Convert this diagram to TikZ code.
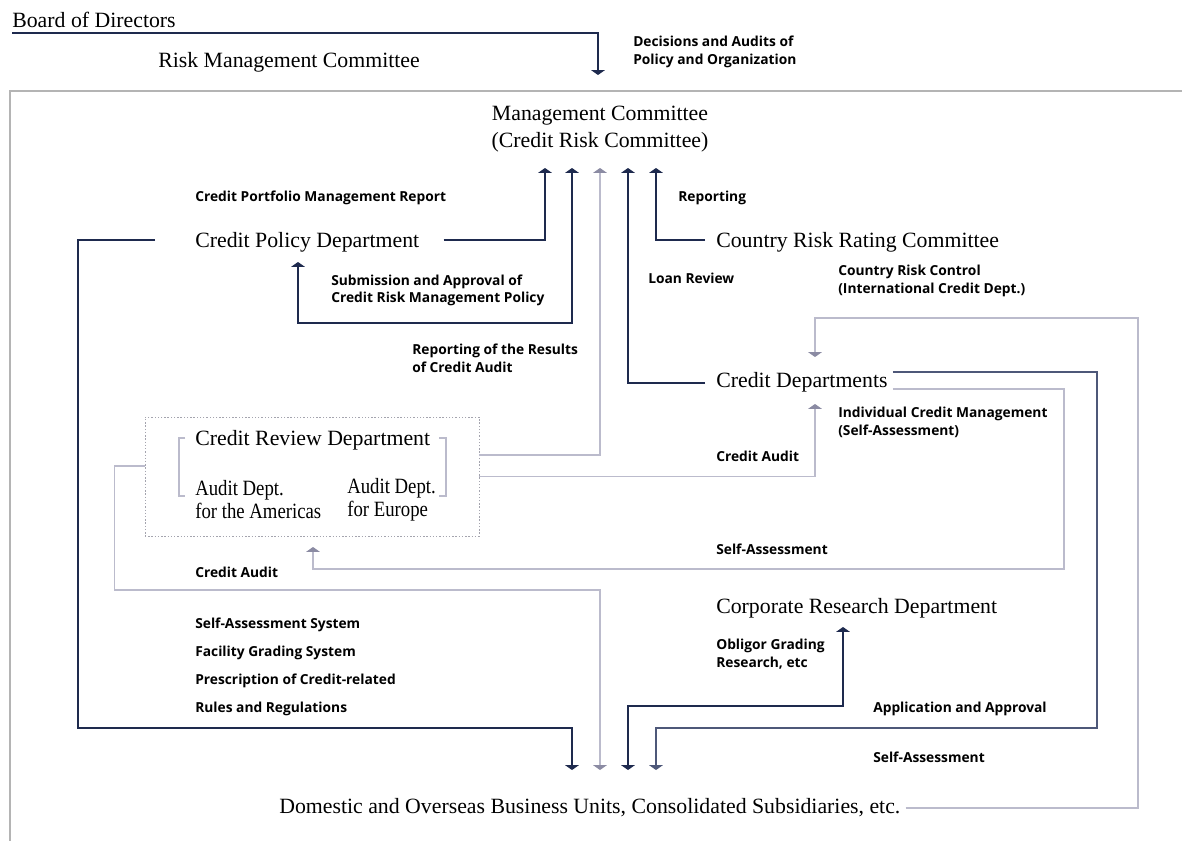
\documentclass[tikz,border=0pt]{standalone}
\usepackage{fontspec}
\setmainfont{Liberation Serif}
\newfontfamily\lblfont{Open Sans}
\newfontfamily\narrowserif[FakeStretch=0.86]{Liberation Serif}
\usetikzlibrary{arrows.meta,positioning}
\definecolor{crnavy}{HTML}{1E2A4E}
\definecolor{crslate}{HTML}{4E5879}
\definecolor{crlilac}{HTML}{BBBBCC}
\definecolor{crtip}{HTML}{8B8BA3}
\definecolor{crframe}{HTML}{B4B4B4}
\definecolor{crdots}{HTML}{A4A4AE}

\begin{document}
\begin{tikzpicture}[
    x=0.025cm, y=-0.025cm,
    unit/.style={anchor=west, inner sep=0pt, font=\fontsize{15.5}{19}\selectfont},
    lbl/.style={anchor=west, inner sep=0pt, align=left,
                font=\lblfont\bfseries\fontsize{9.8}{12.6}\selectfont},
    dark/.style={draw=crnavy, line width=1pt},
    slate/.style={draw=crslate, line width=1pt},
    pale/.style={draw=crlilac, line width=1pt},
    arr/.style={-{Triangle[width=9.5pt,length=3.4pt]}},
    duoarr/.style={{Triangle[width=9.5pt,length=3.4pt]}-{Triangle[width=9.5pt,length=3.4pt]}},
    palearr/.style={-{Triangle[width=9.5pt,length=3.4pt,color=crtip]}}
  ]

  % ---- Canvas and frame ----
  \useasboundingbox (0,0) rectangle (1182,841);
  \fill[white] (0,0) rectangle (1182,841);
  \draw[crframe, line width=0.9pt] (1182,91) -- (10,91) -- (10,841);

  % ============ TOP ============
  \node[unit] (BD) at (12,20) {Board of Directors};
  \node[unit] (RMC) at (158,62) {Risk Management Committee};
  \node[lbl] (decLbl) at (633,52) {Decisions and Audits of\\Policy and Organization};
  \coordinate (bdOut) at (12,33);
  \coordinate (rmcIn) at (598,75);
  \draw[dark, arr] (bdOut) -| (rmcIn);

  % ============ UNITS ============
  \node[unit, anchor=center, align=center, font=\fontsize{15.5}{19.3}\selectfont]
    (MC) at (600,129) {Management Committee\\(Credit Risk Committee)};
  \node[unit] (CPD) at (195,242) {Credit Policy Department};
  \node[unit] (CRRC) at (716,242) {Country Risk Rating Committee};
  \node[unit] (CD) at (716,382) {Credit Departments};
  \node[unit] (CRS) at (716,608) {Corporate Research Department};
  \node[unit] (DOB) at (279,808)
    {Domestic and Overseas Business Units, Consolidated Subsidiaries, etc.};

  % Credit Review Department (dotted box)
  \node[draw=crdots, line width=0.6pt, dash pattern=on 1pt off 1.3pt,
        minimum width=8.35cm, minimum height=2.975cm, inner sep=0pt]
    (CRV) at (312,476.5) {};
  \draw[crlilac, line width=0.8pt] (185,438) -- (179,438) -- (179,496) -- (185,496);
  \draw[crlilac, line width=0.8pt] (439,438) -- (446,438) -- (446,496) -- (439,496);
  \node[unit] (CRVt) at (195,440) {Credit Review Department};
  \node[unit, align=left, font=\narrowserif\fontsize{15.5}{16.4}\selectfont]
    (AdAm) at (195,500) {Audit Dept.\\for the Americas};
  \node[unit, align=left, font=\narrowserif\fontsize{15.5}{16.4}\selectfont]
    (AdEu) at (347,500) {Audit Dept.\\for Europe};

  % ============ PORTS ============
  \coordinate (mcA) at (545,168);
  \coordinate (mcB) at (572,168);
  \coordinate (mcC) at (600,168);
  \coordinate (mcD) at (628,168);
  \coordinate (mcE) at (656,168);
  \coordinate (dbA) at (572,770);
  \coordinate (dbB) at (600,770);
  \coordinate (dbC) at (628,770);
  \coordinate (dbD) at (656,770);
  \coordinate (cpdIn) at (298,262);
  \coordinate (cdInT) at (815,357);
  \coordinate (cdInB) at (815,404);
  \coordinate (crvIn) at (313,547);
  \coordinate (crsIn) at (843,627);
  \coordinate (saTurn) at (1064,569);
  \coordinate (apTurn) at (1097,728);
  \coordinate (crTurn) at (1138,318);

  % ============ CONNECTORS ============
  % into the Management Committee
  \draw[dark, arr] ([shift={(24,-2)}]CPD.east) -| (mcA);
  \draw[dark, duoarr] (cpdIn) -- ++(0,61) -| (mcB);
  \draw[pale, palearr] ([shift={(0,-21.5)}]CRV.east) -| (mcC);
  \draw[dark, arr] ([shift={(-11,1)}]CD.west) -| (mcD);
  \draw[dark, arr] ([shift={(-11,-2)}]CRRC.west) -| (mcE);

  % down to the business units
  \draw[dark, arr] ([shift={(-40,-2)}]CPD.west) -| ++(-77,488) -| (dbA);
  \draw[pale, palearr] ([shift={(0,-10.5)}]CRV.west) -| ++(-30,124) -| (dbB);
  \draw[dark, duoarr] (dbC) -- ++(0,-64) -| (crsIn);
  \draw[slate, arr] ([shift={(5,-10)}]CD.east) -| (apTurn) -| (dbD);

  % credit audit and self-assessment
  \draw[pale, palearr] (CRV.east) -| (cdInB);
  \draw[pale, palearr] ([shift={(5,7)}]CD.east) -| (saTurn) -| (crvIn);
  \draw[pale, palearr] ([shift={(5,0)}]DOB.east) -| (crTurn) -| (cdInT);

  % ============ LABELS ============
  \node[lbl] (cpmLbl) at (195,198) {Credit Portfolio Management Report};
  \node[lbl] (repLbl) at (678,198) {Reporting};
  \node[lbl] (subLbl) at (331,290.5) {Submission and Approval of\\Credit Risk Management Policy};
  \node[lbl] (lrLbl) at (648,278) {Loan Review};
  \node[lbl] (crcLbl) at (838,281) {Country Risk Control\\(International Credit Dept.)};
  \node[lbl] (rrLbl) at (412,358) {Reporting of the Results\\of Credit Audit};
  \node[lbl] (icmLbl) at (838,422) {Individual Credit Management\\(Self-Assessment)};
  \node[lbl] (caLblR) at (716,456) {Credit Audit};
  \node[lbl] (saLblM) at (716,549) {Self-Assessment};
  \node[lbl] (caLblL) at (195,572) {Credit Audit};
  \node[lbl, font=\lblfont\bfseries\fontsize{9.8}{19.9}\selectfont] (sysLbl) at (195,667)
    {Self-Assessment System\\Facility Grading System\\Prescription of Credit-related\\Rules and Regulations};
  \node[lbl] (ogLbl) at (716,654.5) {Obligor Grading\\Research, etc};
  \node[lbl] (aaLbl) at (873,709) {Application and Approval};
  \node[lbl] (saLblB) at (873,757) {Self-Assessment};

\end{tikzpicture}
\end{document}
